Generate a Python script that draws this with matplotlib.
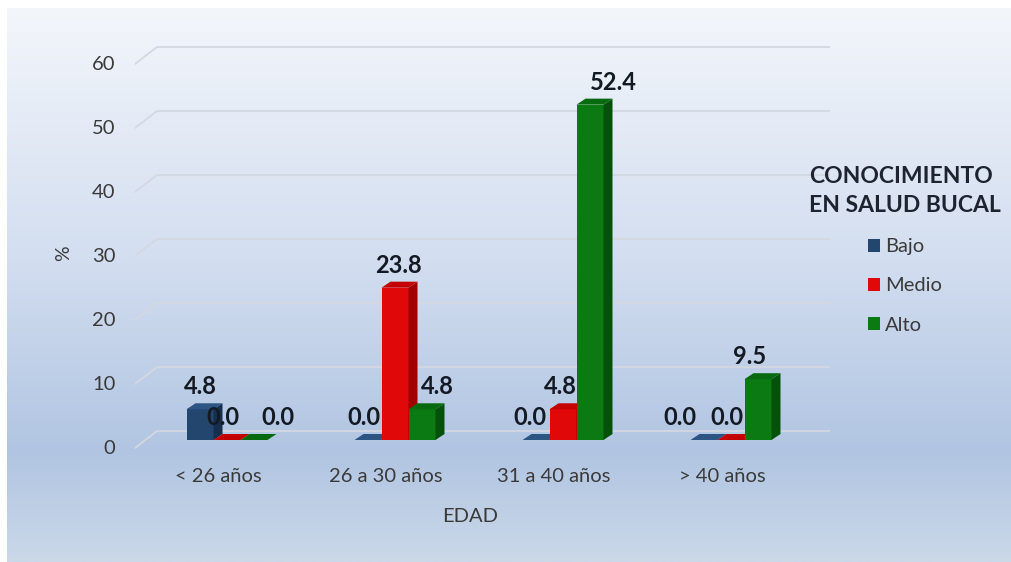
import numpy as np
import matplotlib
matplotlib.use('Agg')
import matplotlib.pyplot as plt
from matplotlib.colors import LinearSegmentedColormap
from matplotlib.patches import Polygon, Patch

edades = ['< 26 años', '26 a 30 años', '31 a 40 años', '> 40 años']
niveles = ['Bajo', 'Medio', 'Alto']
bajo = [4.8, 0.0, 0.0, 0.0]
medio = [0.0, 23.8, 4.8, 0.0]
alto = [0.0, 4.8, 52.4, 9.5]
y_ticks = [0, 10, 20, 30, 40, 50, 60]

# desplazamiento horizontal de las etiquetas (px), como en el original
ajuste_px = [[0, -4, 24], [-4, 3, 15], [-6, -3, 23], [-24, -4, -8]]

frente = ['#23466f', '#e00808', '#0b7a12']
lado = ['#162f4d', '#a00000', '#04520a']
tapa = ['#2c5584', '#c40000', '#086a0e']

plt.rcParams['font.family'] = ['Lato', 'DejaVu Sans']

W, H = 1011, 562
fig = plt.figure(figsize=(W / 100, H / 100), dpi=100)

# fondo degradado
bg = fig.add_axes([0, 0, 1, 1], zorder=-10)
cmap = LinearSegmentedColormap.from_list(
    'fondo', [(0, '#f3f6fb'), (0.45, '#d3def0'), (0.8, '#b1c5e2'), (1, '#cad8e8')])
grad = np.linspace(0, 1, 256).reshape(-1, 1)
bg.imshow(grad, cmap=cmap, aspect='auto', extent=[7, W, H, 8])
bg.set_xlim(0, W)
bg.set_ylim(H, 0)
bg.axis('off')

# escala en px
sx, sy = 168.0, 6.4
x0_px, y0_px = 218.0, 448.0
left_px, right_px = 135, 830
top_px, bot_px = 28, 462
ax = fig.add_axes([left_px / W, 1 - bot_px / H, (right_px - left_px) / W, (bot_px - top_px) / H])
ax.set_xlim((left_px - x0_px) / sx, (right_px - x0_px) / sx)
ax.set_ylim(-(bot_px - y0_px) / sy, (y0_px - top_px) / sy)
ax.patch.set_alpha(0)
for s in ax.spines.values():
    s.set_visible(False)

bdx, bdy = 22 / sx, 17 / sy   # pared del fondo
mdx, mdy = 9 / sx, 8 / sy     # posicion de las barras
ddx, ddy = 9 / sx, 6 / sy     # profundidad de barra

x_l, x_r = ax.get_xlim()
for v in y_ticks:
    ax.plot([x_l, x_l + bdx, x_r], [v, v + bdy, v + bdy], color='#d3d8e1', lw=1.3, zorder=1)

series = [bajo, medio, alto]
w = 27 / sx
x = np.arange(len(edades))
z = 2
for i in range(len(edades)):
    for j, vals in enumerate(series):
        xc = x[i] + mdx + (j - 1) * w
        v = vals[i]
        ax.bar(xc, v, width=w, bottom=mdy, color=frente[j], zorder=z, linewidth=0)
        xl, xr = xc - w / 2, xc + w / 2
        top = mdy + v
        ax.add_patch(Polygon([(xr, mdy), (xr + ddx, mdy + ddy), (xr + ddx, top + ddy), (xr, top)],
                             closed=True, color=lado[j], zorder=z, lw=0))
        ax.add_patch(Polygon([(xl, top), (xl + ddx, top + ddy), (xr + ddx, top + ddy), (xr, top)],
                             closed=True, color=tapa[j], zorder=z, lw=0))
        z += 1
        ax.text(xc + ajuste_px[i][j] / sx, top + 15 / sy, f'{v:.1f}', ha='center', va='baseline',
                fontsize=17, fontweight='bold', color='#141a24', zorder=100)

ax.set_yticks(y_ticks)
ax.set_xticks(x)
ax.set_xticklabels(edades)
ax.tick_params(axis='y', length=0, pad=14, labelsize=14.5, labelcolor='#3a3a3a')
ax.tick_params(axis='x', length=0, pad=4, labelsize=14.5, labelcolor='#3a3a3a')
for t in ax.get_yticklabels():
    t.set_verticalalignment('center')

fig.text(64 / W, 1 - 253 / H, '%', rotation=90, ha='center', va='center', fontsize=14, color='#3a3a3a')
fig.text(470 / W, 1 - 517 / H, 'EDAD', ha='center', va='center', fontsize=14.5, color='#3a3a3a')

handles = [Patch(facecolor=frente[j], label=niveles[j]) for j in range(3)]
leg = fig.legend(handles=handles, title='CONOCIMIENTO\nEN SALUD BUCAL', loc='center',
                 bbox_to_anchor=(905 / W, 1 - 250 / H), frameon=False, fontsize=14.5,
                 handlelength=0.6, handleheight=0.6, handletextpad=0.25, labelspacing=1.1,
                 title_fontproperties={'weight': 'bold', 'size': 16.5})
for t in leg.get_texts():
    t.set_color('#3a3a3a')
leg.get_title().set_color('#1d2430')
leg.get_title().set_linespacing(1.45)

fig.savefig('out.png', dpi=100)
